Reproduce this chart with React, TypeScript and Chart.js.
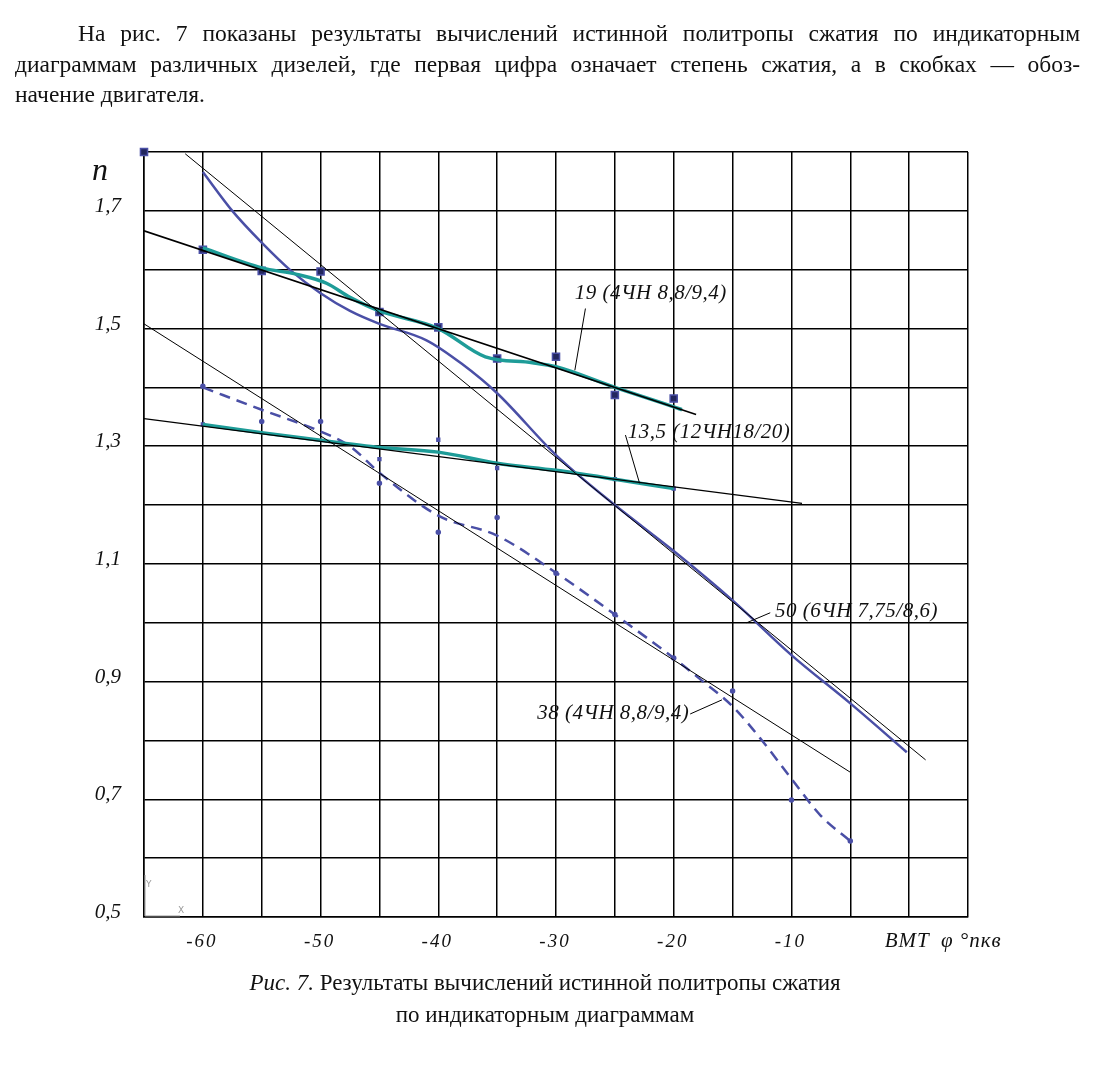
import { useEffect, useRef } from "react"
import { Chart, registerables } from "chart.js"

Chart.register(...registerables)

// crank angle, degrees before TDC
const teal19X = [-60, -55, -52, -49.5, -47.5, -45, -40, -36, -32, -30, -25, -20, -19.3]
const teal19Y = [1.637, 1.603, 1.592, 1.577, 1.553, 1.53, 1.5, 1.452, 1.442, 1.435, 1.4, 1.367, 1.362]
const mark19X = [-65, -60, -55, -50, -45, -40, -35, -30, -25, -20]
const mark19Y = [1.8, 1.634, 1.598, 1.597, 1.528, 1.502, 1.449, 1.452, 1.387, 1.381]
const fit19X = [-65, -18.1]
const fit19Y = [1.666, 1.354]

const teal135X = [-60, -55, -50, -45, -40, -35, -30, -25, -20]
const teal135Y = [1.337, 1.323, 1.31, 1.298, 1.29, 1.271, 1.259, 1.244, 1.228]
const mark135X = [-60, -45, -40, -35, -25, -20]
const mark135Y = [1.337, 1.278, 1.311, 1.263, 1.244, 1.228]
const fit135X = [-65, -9.1]
const fit135Y = [1.347, 1.203]

const curve50X = [-60, -57.5, -55, -52.5, -50, -47.5, -45, -41, -38, -35, -30, -25, -20, -15, -10, -5, -0.2]
const curve50Y = [1.766, 1.7, 1.646, 1.598, 1.56, 1.53, 1.508, 1.48, 1.44, 1.39, 1.285, 1.2, 1.122, 1.038, 0.945, 0.863, 0.78]
const fit50X = [-61.5, 1.4]
const fit50Y = [1.797, 0.767]

const dash38X = [-60, -55, -50, -47.5, -45, -40, -35, -30, -25, -20, -17.5, -15, -12.5, -10, -7.5, -5]
const dash38Y = [1.4, 1.362, 1.325, 1.3, 1.255, 1.182, 1.148, 1.085, 1.014, 0.94, 0.9, 0.858, 0.8, 0.735, 0.672, 0.629]
const mark38X = [-60, -55, -50, -45, -40, -35, -30, -25, -20, -15, -10, -5]
const mark38Y = [1.402, 1.342, 1.342, 1.237, 1.154, 1.179, 1.084, 1.014, 0.94, 0.884, 0.699, 0.629]
const fit38X = [-65, -5]
const fit38Y = [1.508, 0.746]

const curveLabels = ["19 (4ЧН 8,8/9,4)", "13,5 (12ЧН18/20)", "50 (6ЧН 7,75/8,6)", "38 (4ЧН 8,8/9,4)"]

const TEAL = "#1e9c98"
const BLUE = "#4a4fa6"
const NAVY = "#23275e"

const pts = (xs: number[], ys: number[]) => xs.map((x, i) => ({ x, y: ys[i] }))

// label anchor (data coords) + leader line from/to (data coords)
const annotations = [
    { text: curveLabels[0], at: [-28.4, 1.551], lead: [[-27.5, 1.534], [-28.4, 1.429]] },
    { text: curveLabels[1], at: [-23.9, 1.314], lead: [[-24.1, 1.319], [-22.9, 1.237]] },
    { text: curveLabels[2], at: [-11.4, 1.01], lead: [[-11.8, 1.017], [-13.8, 1.0]] },
    { text: curveLabels[3], at: [-31.6, 0.836], lead: [[-18.6, 0.845], [-15.9, 0.869]] },
]

const overlay = {
    id: "overlay",
    afterDraw(chart: any) {
        const { ctx, scales } = chart
        const x = scales.x
        const y = scales.y
        ctx.save()
        ctx.fillStyle = "#111"

        // y tick labels (odd tenths only)
        ctx.font = 'italic 21px "Liberation Serif"'
        ctx.textAlign = "right"
        ctx.textBaseline = "alphabetic"
        y.ticks.forEach((t: any) => {
            const k = Math.round(t.value * 10)
            if (k % 2 === 1) {
                ctx.fillText((k / 10).toFixed(1).replace(".", ","), x.left - 23, y.getPixelForValue(t.value) + 1)
            }
        })

        // x tick labels
        x.ticks.forEach((t: any) => {
            const v = Math.round(t.value)
            const px = x.getPixelForValue(v)
            ctx.textAlign = "center"
            if (v < 0 && v % 10 === 0) {
                ctx.font = 'italic 19px "Liberation Serif"'
                ;(ctx as any).letterSpacing = "2px"
                ctx.fillText(String(v), px - 1, y.bottom + 30)
            } else if (v === 0) {
                ctx.font = 'italic 21px "Liberation Serif"'
                ;(ctx as any).letterSpacing = "1px"
                ctx.fillText("ВМТ", px - 2, y.bottom + 30)
            } else if (v === 5) {
                ctx.font = 'italic 21px "Liberation Serif"'
                ;(ctx as any).letterSpacing = "1px"
                ctx.textAlign = "left"
                ctx.fillText("φ °пкв", px - 27, y.bottom + 30)
            }
        })
        ;(ctx as any).letterSpacing = "0px"

        // axis name
        ctx.textAlign = "left"
        ctx.font = 'italic 32px "Liberation Serif"'
        ctx.fillText("n", x.left - 52, y.top + 28)

        // curve labels with leader lines
        ctx.font = 'italic 21px "Liberation Serif"'
        ;(ctx as any).letterSpacing = "0.5px"
        ctx.strokeStyle = "#000"
        ctx.lineWidth = 1
        annotations.forEach((a) => {
            ctx.fillText(a.text, x.getPixelForValue(a.at[0]), y.getPixelForValue(a.at[1]))
            ctx.beginPath()
            ctx.moveTo(x.getPixelForValue(a.lead[0][0]), y.getPixelForValue(a.lead[0][1]))
            ctx.lineTo(x.getPixelForValue(a.lead[1][0]), y.getPixelForValue(a.lead[1][1]))
            ctx.stroke()
        })
        ;(ctx as any).letterSpacing = "0px"

        // small CAD axis icon in the corner
        ctx.strokeStyle = "#999"
        ctx.fillStyle = "#999"
        ctx.beginPath()
        ctx.moveTo(x.left + 1, y.bottom - 1)
        ctx.lineTo(x.left + 1, y.bottom - 42)
        ctx.moveTo(x.left + 1, y.bottom - 1)
        ctx.lineTo(x.left + 36, y.bottom - 1)
        ctx.stroke()
        ctx.font = '9px "DejaVu Sans"'
        ctx.fillText("Y", x.left + 2, y.bottom - 30)
        ctx.fillText("X", x.left + 34, y.bottom - 4)
        ctx.restore()
    },
}

export default function App() {
    const canvasRef = useRef<HTMLCanvasElement | null>(null)
    const chartRef = useRef<Chart | null>(null)

    useEffect(() => {
        if (!canvasRef.current) return
        if (chartRef.current) chartRef.current.destroy()

        const line = (data: any, color: string, width: number, extra: any = {}) => ({
            data,
            showLine: true,
            borderColor: color,
            borderWidth: width,
            pointRadius: 0,
            cubicInterpolationMode: "monotone",
            ...extra,
        })
        const markers = (data: any, style: string, r: number, fill: string, border: string) => ({
            data,
            showLine: false,
            clip: 8,
            pointStyle: style,
            pointRadius: r,
            backgroundColor: fill,
            borderColor: border,
            borderWidth: 1.5,
        })

        chartRef.current = new Chart(canvasRef.current, {
            type: "scatter",
            data: {
                datasets: [
                    line(pts(fit19X, fit19Y), "#000", 1.6),
                    line(pts(fit135X, fit135Y), "#000", 1.3),
                    line(pts(fit50X, fit50Y), "#000", 1),
                    line(pts(fit38X, fit38Y), "#000", 1),
                    line(pts(teal19X, teal19Y), TEAL, 3.5),
                    line(pts(teal135X, teal135Y), TEAL, 3.5),
                    line(pts(curve50X, curve50Y), BLUE, 2.5),
                    line(pts(dash38X, dash38Y), BLUE, 2.5, { borderDash: [11, 7] }),
                    markers(pts(mark19X, mark19Y), "rect", 5, NAVY, BLUE),
                    markers(pts(mark135X, mark135Y), "rect", 2, BLUE, BLUE),
                    markers(pts(mark38X, mark38Y), "circle", 2, BLUE, BLUE),
                ] as any,
            },
            options: {
                animation: false,
                responsive: false,
                layout: { padding: { left: 84, top: 152, right: 152, bottom: 98 } },
                plugins: { legend: { display: false }, tooltip: { enabled: false } },
                scales: {
                    x: {
                        type: "linear",
                        min: -65,
                        max: 5,
                        ticks: { stepSize: 5, display: false },
                        grid: { color: "#000", lineWidth: 1.5, drawTicks: false },
                        border: { color: "#000", width: 1.5 },
                        afterFit: (axis: any) => {
                            axis.height = 50
                        },
                    },
                    y: {
                        type: "linear",
                        min: 0.5,
                        max: 1.8,
                        ticks: { stepSize: 0.1, display: false },
                        grid: { color: "#000", lineWidth: 1.5, drawTicks: false },
                        border: { color: "#000", width: 1.5 },
                        afterFit: (axis: any) => {
                            axis.width = 60
                        },
                    },
                },
            },
            plugins: [overlay],
        })

        return () => {
            if (chartRef.current) {
                chartRef.current.destroy()
                chartRef.current = null
            }
        }
    }, [])

    const serif = '"Liberation Serif", "Times New Roman", serif'
    const lineStyle: any = { textAlign: "justify", textAlignLast: "justify", height: 30.5 }

    return (
        <div style={{ position: "absolute", left: 0, top: 0, width: 1120, height: 1065, background: "#fff", fontFamily: serif, color: "#111" }}>
            <canvas ref={canvasRef} width={1120} height={1065} style={{ position: "absolute", left: 0, top: 0 }} />
            <div style={{ position: "absolute", left: 15, top: 18, width: 1065, fontSize: 23.5, lineHeight: "30.5px" }}>
                <div style={{ ...lineStyle, marginLeft: 63 }}>
                    На рис. 7 показаны результаты вычислений истинной политропы сжатия по индикаторным
                </div>
                <div style={lineStyle}>
                    диаграммам различных дизелей, где первая цифра означает степень сжатия, а в скобках — обоз-
                </div>
                <div style={{ height: 30.5 }}>начение двигателя.</div>
            </div>
            <div style={{ position: "absolute", left: 0, top: 967, width: 1090, textAlign: "center", fontSize: 23, lineHeight: "32px" }}>
                <div>
                    <i>Рис. 7.</i> Результаты вычислений истинной политропы сжатия
                </div>
                <div>по индикаторным диаграммам</div>
            </div>
        </div>
    )
}
